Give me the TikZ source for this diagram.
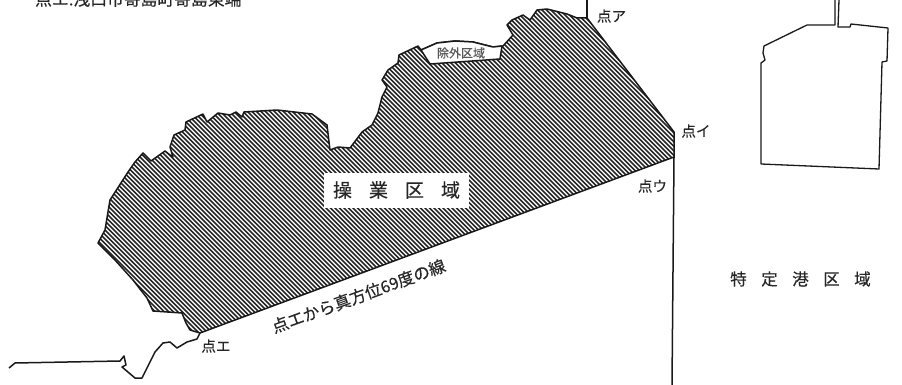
\documentclass[tikz,border=0pt]{standalone}
\usepackage{fontspec}
\setmainfont[FakeBold=0.35]{Noto Sans CJK JP}
\tikzset{
  coast/.style={draw=black!90,line width=1.5pt,line join=round},
  hatchline/.style={draw=black!85,line width=1.5pt},
  lab/.style={inner sep=0pt,font=\fontsize{14.5}{14.5}\selectfont,text=black!85},
}
\begin{document}
\begin{tikzpicture}[x=1pt,y=-1pt]
\useasboundingbox (0,0) rectangle (902,385);
\clip (0,0) rectangle (902,385);
\coordinate (E) at (200,333);
\coordinate (A) at (587,18);
\coordinate (I) at (674,132);
\coordinate (U) at (674,157);
\coordinate (Atop) at (587,0);
\coordinate (Ubot) at (672,385);
\def\outline{(E) -- (190,330) -- (186,323) -- (182,313) -- (153,311) -- (147,298) -- (133,280) -- (115,260) -- (98,243) -- (105,230) -- (110,200) -- (128,172) -- (135,162) -- (143,153) -- (151,161) -- (165,151) -- (170,155) -- (173,157) -- (170,147) -- (174,135) -- (185,130) -- (186,122) -- (203,114) -- (207,122) -- (218,113) -- (230,115) -- (236,112) -- (242,117) -- (244,112) -- (277,110) -- (312,114) -- (327,125) -- (330,150) -- (338,147) -- (350,148) -- (362,132) -- (372,125) -- (378,113) -- (382,97) -- (387,87) -- (382,80) -- (388,70) -- (398,63) -- (399,55) -- (418,46) -- (421,50) -- (437,43) -- (455,41) -- (473,42) -- (493,47) -- (503,46) -- (513,35) -- (507,25) -- (512,20) -- (523,15) -- (530,20) -- (537,10) -- (547,9) -- (567,14) -- (577,18) -- (A) -- (I) -- (U) -- cycle}
\begin{scope}
  \clip \outline;
  \foreach \k in {0,...,260}{
    \draw[hatchline] (\k*4.5-350,0) -- ++(400,400);
  }
\end{scope}
\draw[coast] \outline;
% exclusion zone
\draw[coast,fill=white] (421,50) -- (437,43) -- (455,41) -- (473,42) -- (493,47) -- (502,46) -- (500,59) -- (430,64) -- cycle;
% other lines
\draw[coast] (A) -- (Atop);
\draw[coast] (U) -- (Ubot);
% south coast
\draw[coast] (E) -- (197,339) -- (187,342) -- (177,348) -- (170,342) -- (163,343) -- (155,352) -- (142,378) -- (135,378) -- (122,367) -- (126,365) -- (124,356) -- (120,361) -- (15,363) -- (9,368);
% harbour
\draw[coast,line width=1.3pt] (835,0) -- (835,25) -- (807,25) -- (764,46) -- (763,53) -- (765,60) -- (761,63) -- (761,164) -- (879,169) -- (882,62) -- (887,61) -- (888,28) -- (851,24) -- (850,27) -- (838,27) -- (839,0);
% labels
\node[fill=white,minimum width=145pt,minimum height=35pt,inner sep=0pt] (opbox) at (396.5,190.5) {};
\node[lab,font=\fontsize{19}{19}\selectfont] (op) at (396.5,190) {操\hspace{17pt}業\hspace{17pt}区\hspace{17pt}域};
\node[lab,font=\fontsize{16.5}{16.5}\selectfont] (port) at (800.5,279) {特\hspace{14.5pt}定\hspace{14.5pt}港\hspace{14.5pt}区\hspace{14.5pt}域};
\node[lab,rotate=20,font=\fontsize{16.5}{16.5}\selectfont] (line) at (358.5,296) {点エから真方位69度の線};
\node[lab] (la) at (611.5,16) {点ア};
\node[lab] (li) at (696,131) {点イ};
\node[lab] (lu) at (652.5,186) {点ウ};
\node[lab] (le) at (216,346) {点エ};
\node[lab,font=\fontsize{12}{12}\selectfont,text=black!65] (ex) at (461,53) {除外区域};
\node[lab,font=\fontsize{16.8}{16.8}\selectfont,anchor=west] (top) at (35,-1) {点エ:浅口市寄島町寄島東端};
\end{tikzpicture}
\end{document}
